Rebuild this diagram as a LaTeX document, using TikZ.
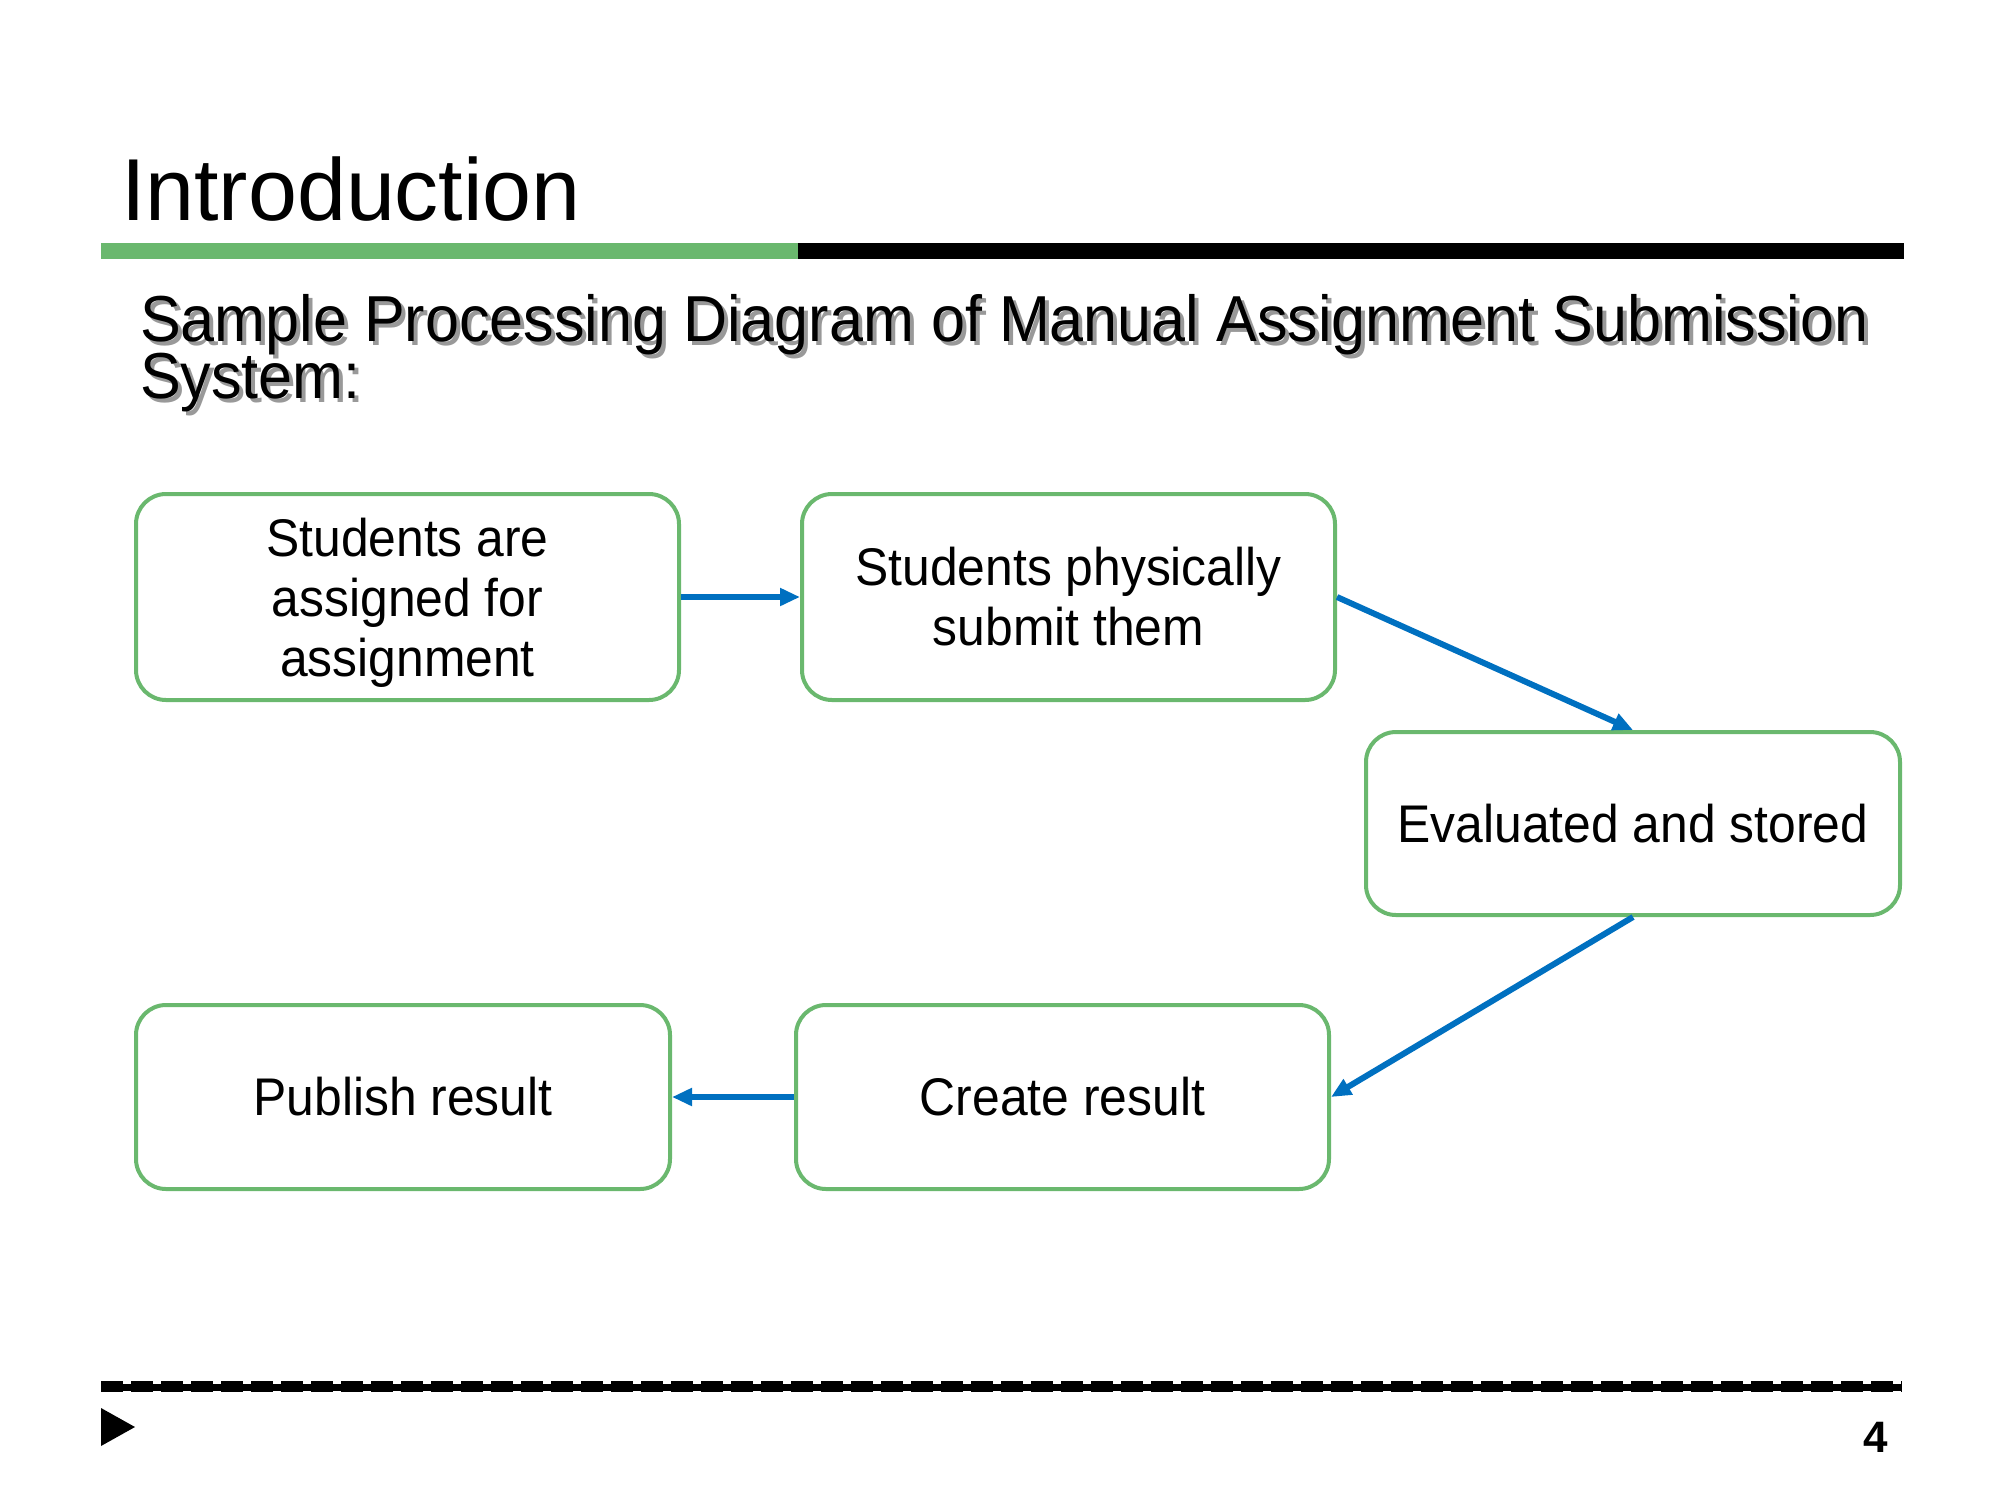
\documentclass[tikz,border=0pt]{standalone}
\usepackage{fontspec}
\setmainfont{Liberation Sans}
\newfontfamily\narrowfont[FakeStretch=0.94]{Liberation Sans}
\usetikzlibrary{arrows.meta}
\definecolor{boxgreen}{RGB}{106,184,110}
\definecolor{arrowblue}{RGB}{0,112,192}
\newcommand{\shadowed}[1]{\rlap{\hspace{4pt}\raisebox{-4pt}{\textcolor{black!40}{#1}}}#1}
\tikzset{
  procbox/.style={draw=boxgreen, line width=4pt, rounded corners=30pt, fill=white,
    align=center, inner sep=0pt, font=\narrowfont\fontsize{53}{60}\selectfont},
  flow/.style={draw=arrowblue, line width=6pt, -{Triangle[length=20pt,width=17pt]}},
  plain/.style={inner sep=0pt, outer sep=0pt}
}
\begin{document}
\begin{tikzpicture}[x=1pt,y=-1pt]
\useasboundingbox (0,0) rectangle (2000,1500);
% title
\node[plain, anchor=base west, font=\fontsize{88}{88}\selectfont] (title) at (121,220) {Introduction};
% rule
\fill[boxgreen] (101,243) rectangle (798,259);
\fill[black] (798,243) rectangle (1904,259);
% subtitle with shadow
\node[plain, anchor=base west, font=\narrowfont\fontsize{65}{57}\selectfont] (sub1) at (140,341) {\shadowed{Sample Processing Diagram of Manual Assignment Submission}};
\node[plain, anchor=base west, font=\narrowfont\fontsize{65}{57}\selectfont] (sub2) at (140,398) {\shadowed{System:}};
% boxes
\node[procbox, minimum width=543pt, minimum height=206pt] (b1) at (407.5,597) {\rule{0pt}{50pt}Students are\\assigned for\\assignment};
\node[procbox, minimum width=533pt, minimum height=206pt] (b2) at (1068.5,597) {Students physically\\submit them};
\node[procbox, minimum width=534pt, minimum height=183pt] (b3) at (1633,823.5) {Evaluated and stored};
\node[procbox, minimum width=533pt, minimum height=184pt] (b4) at (1062.5,1097) {Create result};
\node[procbox, minimum width=534pt, minimum height=184pt] (b5) at (403,1097) {Publish result};
% arrows
\draw[flow] (b1.east) -- (b2.west);
\draw[flow] (b2.east) -- (b3.north);
\draw[flow] (b3.south) -- (b4.east);
\draw[flow] (b4.west) -- (b5.east);
% footer
\draw[line width=7pt] (101,1387) -- (1902,1387);
\draw[line width=11pt, dash pattern=on 22pt off 8pt] (101,1386) -- (1902,1386);
\fill[black] (101,1408) -- (135,1427) -- (101,1446) -- cycle;
\node[plain, anchor=base east, font=\fontsize{44}{44}\selectfont\bfseries] (pnum) at (1888,1452) {4};
\end{tikzpicture}
\end{document}
